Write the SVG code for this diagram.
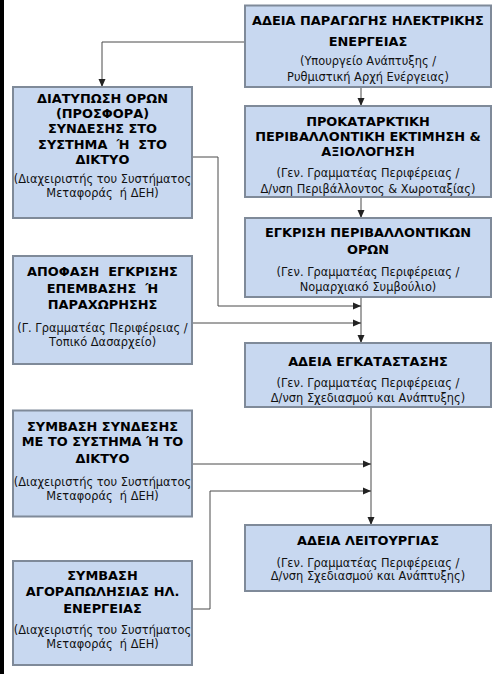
<svg xmlns="http://www.w3.org/2000/svg" width="504" height="674" viewBox="0 0 504 674">
<defs>
<style>
.box{fill:#c8d8f0;stroke:#7f8a99;stroke-width:2}
.t{font-family:"DejaVu Sans",Verdana,sans-serif;font-weight:bold;font-size:12.9px;fill:#000;text-anchor:middle;white-space:pre}
.s{font-family:"DejaVu Sans",Verdana,sans-serif;font-size:11.4px;fill:#111;text-anchor:middle;white-space:pre}
.c{fill:none;stroke:#4a4a4a;stroke-width:1}
</style>
<marker id="ah" viewBox="0 0 8 8" refX="8" refY="4" markerWidth="8" markerHeight="8" markerUnits="userSpaceOnUse" orient="auto">
<path d="M0,0.5 L8,4 L0,7.5 Z" fill="#222"/>
</marker>
</defs>
<rect x="0" y="0" width="504" height="674" fill="#ffffff"/>
<rect x="0" y="0" width="4" height="674" fill="#000"/>

<g id="connectors">
<polyline class="c" points="245,42 102,42 102,87" marker-end="url(#ah)"/>
<line class="c" x1="361" y1="87" x2="361" y2="106" marker-end="url(#ah)"/>
<line class="c" x1="361" y1="197" x2="361" y2="218" marker-end="url(#ah)"/>
<line class="c" x1="361" y1="297" x2="361" y2="343" marker-end="url(#ah)"/>
<polyline class="c" points="192,157 218,157 218,306 361,306" marker-end="url(#ah)"/>
<line class="c" x1="192" y1="323" x2="361" y2="323" marker-end="url(#ah)"/>
<line class="c" x1="371" y1="407" x2="371" y2="525" marker-end="url(#ah)"/>
<line class="c" x1="191" y1="464" x2="371" y2="464" marker-end="url(#ah)"/>
<polyline class="c" points="192,609 210,609 210,491 371,491" marker-end="url(#ah)"/>
</g>

<g id="node-adeia-paragogis">
<rect class="box" x="245" y="5.5" width="246" height="81.5"/>
<text class="t" x="368" y="25">ΑΔΕΙΑ ΠΑΡΑΓΩΓΗΣ ΗΛΕΚΤΡΙΚΗΣ</text>
<text class="t" x="368" y="46">ΕΝΕΡΓΕΙΑΣ</text>
<text class="s" x="368" y="65">(Υπουργείο Ανάπτυξης /</text>
<text class="s" x="368" y="81">Ρυθμιστική Αρχή Ενέργειας)</text>
</g>

<g id="node-diatyposi-oron">
<rect class="box" x="13" y="87" width="179" height="131"/>
<text class="t" x="102.5" y="102.5">ΔΙΑΤΥΠΩΣΗ ΟΡΩΝ</text>
<text class="t" x="102.5" y="117.5">(ΠΡΟΣΦΟΡΑ)</text>
<text class="t" x="102.5" y="132.5">ΣΥΝΔΕΣΗΣ ΣΤΟ</text>
<text class="t" x="102.5" y="148.5">ΣΥΣΤΗΜΑ  Ή  ΣΤΟ</text>
<text class="t" x="102.5" y="163.5">ΔΙΚΤΥΟ</text>
<text class="s" x="102.5" y="183">(Διαχειριστής του Συστήματος</text>
<text class="s" x="102.5" y="197">Μεταφοράς  ή ΔΕΗ)</text>
</g>

<g id="node-prokatarktiki">
<rect class="box" x="245" y="106" width="246" height="91"/>
<text class="t" x="368" y="126">ΠΡΟΚΑΤΑΡΚΤΙΚΗ</text>
<text class="t" x="368" y="141">ΠΕΡΙΒΑΛΛΟΝΤΙΚΗ ΕΚΤΙΜΗΣΗ &amp;</text>
<text class="t" x="368" y="156">ΑΞΙΟΛΟΓΗΣΗ</text>
<text class="s" x="368" y="177">(Γεν. Γραμματέας Περιφέρειας /</text>
<text class="s" x="368" y="193">Δ/νση Περιβάλλοντος &amp; Χωροταξίας)</text>
</g>

<g id="node-egkrisi-perivallontikon">
<rect class="box" x="245" y="218" width="246" height="79"/>
<text class="t" x="368" y="237">ΕΓΚΡΙΣΗ ΠΕΡΙΒΑΛΛΟΝΤΙΚΩΝ</text>
<text class="t" x="368" y="254">ΟΡΩΝ</text>
<text class="s" x="368" y="276">(Γεν. Γραμματέας Περιφέρειας /</text>
<text class="s" x="368" y="291">Νομαρχιακό Συμβούλιο)</text>
</g>

<g id="node-apofasi-egkrisis">
<rect class="box" x="13" y="256" width="179" height="108"/>
<text class="t" x="102.5" y="276">ΑΠΟΦΑΣΗ  ΕΓΚΡΙΣΗΣ</text>
<text class="t" x="102.5" y="293">ΕΠΕΜΒΑΣΗΣ  Ή</text>
<text class="t" x="102.5" y="309">ΠΑΡΑΧΩΡΗΣΗΣ</text>
<text class="s" x="102.5" y="332">(Γ. Γραμματέας Περιφέρειας /</text>
<text class="s" x="102.5" y="346">Τοπικό Δασαρχείο)</text>
</g>

<g id="node-adeia-egkatastasis">
<rect class="box" x="245" y="343" width="246" height="64"/>
<text class="t" x="368" y="366">ΑΔΕΙΑ ΕΓΚΑΤΑΣΤΑΣΗΣ</text>
<text class="s" x="368" y="387">(Γεν. Γραμματέας Περιφέρειας /</text>
<text class="s" x="368" y="402">Δ/νση Σχεδιασμού και Ανάπτυξης)</text>
</g>

<g id="node-symvasi-syndesis">
<rect class="box" x="13" y="410.5" width="179" height="106"/>
<text class="t" x="102.5" y="430.5">ΣΥΜΒΑΣΗ ΣΥΝΔΕΣΗΣ</text>
<text class="t" x="102.5" y="446">ΜΕ ΤΟ ΣΥΣΤΗΜΑ Ή ΤΟ</text>
<text class="t" x="102.5" y="463">ΔΙΚΤΥΟ</text>
<text class="s" x="102.5" y="486">(Διαχειριστής του Συστήματος</text>
<text class="s" x="102.5" y="500">Μεταφοράς  ή ΔΕΗ)</text>
</g>

<g id="node-adeia-leitourgias">
<rect class="box" x="245" y="525" width="246" height="66"/>
<text class="t" x="368" y="544.5">ΑΔΕΙΑ ΛΕΙΤΟΥΡΓΙΑΣ</text>
<text class="s" x="368" y="567">(Γεν. Γραμματέας Περιφέρειας /</text>
<text class="s" x="368" y="580">Δ/νση Σχεδιασμού και Ανάπτυξης)</text>
</g>

<g id="node-symvasi-agorapolisias">
<rect class="box" x="13" y="561" width="179" height="104"/>
<text class="t" x="102.5" y="579.5">ΣΥΜΒΑΣΗ</text>
<text class="t" x="102.5" y="596">ΑΓΟΡΑΠΩΛΗΣΙΑΣ ΗΛ.</text>
<text class="t" x="102.5" y="613">ΕΝΕΡΓΕΙΑΣ</text>
<text class="s" x="102.5" y="634">(Διαχειριστής του Συστήματος</text>
<text class="s" x="102.5" y="648">Μεταφοράς  ή ΔΕΗ)</text>
</g>
</svg>
